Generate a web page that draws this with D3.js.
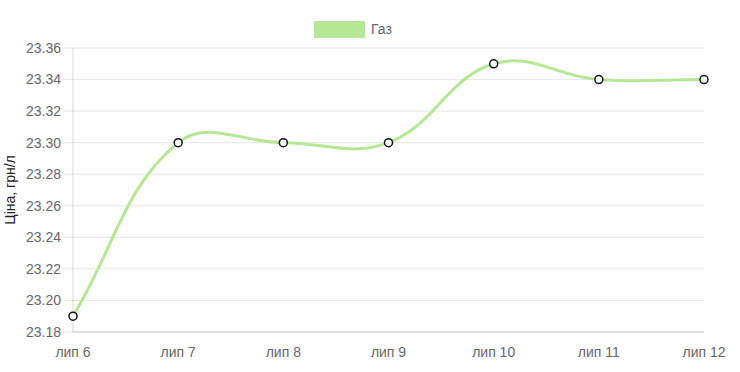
<!DOCTYPE html>
<html>
<head>
<meta charset="utf-8">
<script src="https://cdn.jsdelivr.net/npm/d3@7"></script>
<style>
  body { margin: 0; background: #fff; }
  text { font-family: "Liberation Sans", Arial, sans-serif; }
</style>
</head>
<body>
<div id="chart-area"></div>
<script>
var months = ["лип 6", "лип 7", "лип 8", "лип 9", "лип 10", "лип 11", "лип 12"];
var prices = [23.19, 23.30, 23.30, 23.30, 23.35, 23.34, 23.34];
var yTicks = [23.18, 23.20, 23.22, 23.24, 23.26, 23.28, 23.30, 23.32, 23.34, 23.36];
var seriesName = "Газ";
var yTitle = "Ціна, грн/л";

var W = 740, H = 372;
var margin = { left: 73, right: 36, top: 48, bottom: 40 };
var width = W - margin.left - margin.right,
    height = H - margin.top - margin.bottom;

var svg = d3.select("#chart-area")
    .append("svg")
        .attr("width", W)
        .attr("height", H);

var g = svg.append("g")
    .attr("transform", "translate(" + margin.left + "," + margin.top + ")");

var x = d3.scalePoint()
    .domain(months)
    .range([0, width]);

var y = d3.scaleLinear()
    .domain([23.18, 23.36])
    .range([height, 0]);

// grid lines
g.append("g")
    .selectAll("line")
    .data(yTicks)
    .enter().append("line")
        .attr("x1", -10)
        .attr("x2", width)
        .attr("y1", function(d){ return y(d); })
        .attr("y2", function(d){ return y(d); })
        .attr("stroke", "rgba(0,0,0,0.1)");

// y axis line
g.append("line")
    .attr("x1", 0).attr("x2", 0)
    .attr("y1", 0).attr("y2", height)
    .attr("stroke", "rgba(0,0,0,0.15)");

// x axis line
g.append("line")
    .attr("x1", 0).attr("x2", width)
    .attr("y1", height).attr("y2", height)
    .attr("stroke", "rgba(0,0,0,0.15)");

// Y tick labels
g.append("g")
    .selectAll("text")
    .data(yTicks)
    .enter().append("text")
        .attr("x", -12)
        .attr("y", function(d){ return y(d); })
        .attr("dy", "0.35em")
        .attr("text-anchor", "end")
        .attr("font-size", "14px")
        .attr("fill", "#666")
        .text(function(d){ return d.toFixed(2); });

// X tick labels
g.append("g")
    .selectAll("text")
    .data(months)
    .enter().append("text")
        .attr("x", function(d){ return x(d); })
        .attr("y", height + 20)
        .attr("dy", "0.35em")
        .attr("text-anchor", "middle")
        .attr("font-size", "14px")
        .attr("fill", "#666")
        .text(function(d){ return d; });

// Y Label
svg.append("text")
    .attr("transform", "translate(10," + (margin.top + height / 2) + ") rotate(-90)")
    .attr("text-anchor", "middle")
    .attr("dy", "0.35em")
    .attr("font-size", "14px")
    .attr("fill", "#222")
    .text(yTitle);

// spline like chart.js (tension 0.4, distance weighted)
function splinePath(pts, t) {
    var cps = pts.map(function(p, i) {
        var prev = pts[i - 1] || p, next = pts[i + 1] || p;
        var d01 = Math.hypot(p[0] - prev[0], p[1] - prev[1]);
        var d12 = Math.hypot(next[0] - p[0], next[1] - p[1]);
        var s01 = d01 / (d01 + d12 || 1), s12 = d12 / (d01 + d12 || 1);
        var fa = t * s01, fb = t * s12;
        var cIn = [p[0] - fa * (next[0] - prev[0]), p[1] - fa * (next[1] - prev[1])];
        var cOut = [p[0] + fb * (next[0] - prev[0]), p[1] + fb * (next[1] - prev[1])];
        cIn[1] = Math.max(0, Math.min(height, cIn[1]));
        cOut[1] = Math.max(0, Math.min(height, cOut[1]));
        return { cIn: cIn, cOut: cOut };
    });
    var path = d3.path();
    path.moveTo(pts[0][0], pts[0][1]);
    for (var i = 1; i < pts.length; i++) {
        path.bezierCurveTo(cps[i - 1].cOut[0], cps[i - 1].cOut[1],
            cps[i].cIn[0], cps[i].cIn[1], pts[i][0], pts[i][1]);
    }
    return path.toString();
}

var pts = prices.map(function(d, i){ return [x(months[i]), y(d)]; });

g.append("path")
    .attr("fill", "none")
    .attr("stroke", "#b5e794")
    .attr("stroke-width", 3)
    .attr("d", splinePath(pts, 0.4));

// points
g.selectAll("circle")
    .data(prices)
    .enter().append("circle")
        .attr("cx", function(d, i){ return x(months[i]); })
        .attr("cy", function(d){ return y(d); })
        .attr("r", 4)
        .attr("fill", "#fff")
        .attr("stroke", "#111")
        .attr("stroke-width", 1.5);

// legend
svg.append("rect")
    .attr("x", 314).attr("y", 21)
    .attr("width", 51).attr("height", 17)
    .attr("fill", "#b5e794");

svg.append("text")
    .attr("x", 371).attr("y", 29.5)
    .attr("dy", "0.35em")
    .attr("font-size", "14px")
    .attr("fill", "#666")
    .text(seriesName);
</script>
</body>
</html>
